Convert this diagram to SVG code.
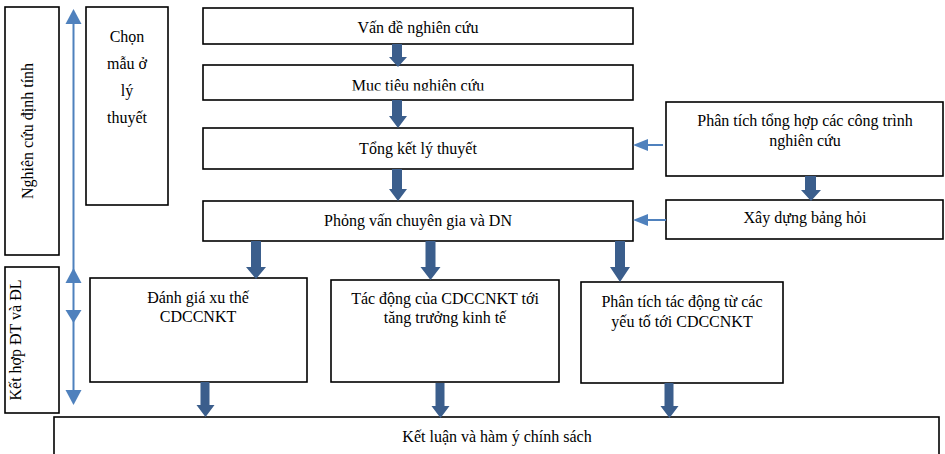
<svg xmlns="http://www.w3.org/2000/svg" width="945" height="454" viewBox="0 0 945 454">
<style>
.box{fill:#fff;stroke:#000;stroke-width:1.6}
text{font-family:'Liberation Serif','Times New Roman',serif;font-size:16px;fill:#000;text-anchor:middle}
.da{fill:#3b5e8c}
.la{fill:#4f81bd}
.ll{stroke:#4f81bd;stroke-width:2;fill:none}
</style>
<defs>
<clipPath id="clipMuc"><rect x="203" y="65" width="430" height="25.5"/></clipPath>
</defs>
<g id="n-dinhtinh"><rect class="box" x="5" y="7" width="54" height="248"/><text transform="translate(33,131) rotate(-90)">Nghiên cứu định tính</text></g>
<g id="n-kethop"><rect class="box" x="5" y="267" width="54" height="146"/><text transform="translate(21,340) rotate(-90)">Kết hợp ĐT và ĐL</text></g>
<g id="n-chon"><rect class="box" x="86" y="7" width="82" height="198" stroke-width="2"/><text x="127" y="42">Chọn</text><text x="127" y="69">mẫu ở</text><text x="127" y="96">lý</text><text x="127" y="123">thuyết</text></g>
<g id="n-vande"><rect class="box" x="203" y="8" width="430" height="36"/><text x="418" y="33">Vấn đề nghiên cứu</text></g>
<g id="n-muctieu"><rect class="box" x="203" y="65" width="430" height="35"/><text x="418" y="91" clip-path="url(#clipMuc)">Mục tiêu nghiên cứu</text></g>
<g id="n-tongket"><rect class="box" x="203" y="128" width="430" height="41"/><text x="418" y="154">Tổng kết lý thuyết</text></g>
<g id="n-phongvan"><rect class="box" x="203" y="201" width="430" height="40"/><text x="418" y="226">Phỏng vấn chuyên gia và DN</text></g>
<g id="n-phantich"><rect class="box" x="666" y="102" width="277" height="74"/><text x="805" y="126">Phân tích tổng hợp các công trình</text><text x="805" y="146">nghiên cứu</text></g>
<g id="n-xaydung"><rect class="box" x="666" y="200" width="277" height="39"/><text x="805" y="223">Xây dựng bảng hỏi</text></g>
<g id="n-danhgia"><rect class="box" x="90" y="278" width="217" height="104"/><text x="198" y="303">Đánh giá xu thế</text><text x="198" y="322">CDCCNKT</text></g>
<g id="n-tacdong"><rect class="box" x="331" y="280" width="228" height="102"/><text x="445" y="304">Tác động của CDCCNKT tới</text><text x="445" y="323">tăng trưởng kinh tế</text></g>
<g id="n-yeuto"><rect class="box" x="581" y="282" width="202" height="101"/><text x="682" y="307">Phân tích tác động từ các</text><text x="682" y="327">yếu tố tới CDCCNKT</text></g>
<g id="n-ketluan"><rect class="box" x="54" y="417" width="885" height="45"/><text x="497" y="442">Kết luận và hàm ý chính sách</text></g>
<g id="connectors">
<path class="da" d="M392,44 h10 v13 h5 l-9,10 l-9,-10 h3 z"/>
<path class="da" d="M392,100 h10 v16 h5 l-9,12 l-9,-12 h3 z"/>
<path class="da" d="M392,169 h10 v20 h5 l-9,12 l-9,-12 h3 z"/>
<path class="da" d="M805,176 h11 v14 h5 l-10,11 l-10,-11 h4 z"/>
<path class="da" d="M251,241 h10 v26 h5 l-10,12 l-10,-12 h5 z"/>
<path class="da" d="M425.5,241 h10 v26 h5 l-10,13 l-10,-13 h5 z"/>
<path class="da" d="M615,241 h10 v26 h5 l-10,15 l-10,-15 h5 z"/>
<path class="da" d="M200.5,382 h9 v23 h5 l-9,12 l-9,-12 h4 z"/>
<path class="da" d="M435.5,383 h9 v23 h5 l-9,12 l-9,-12 h4 z"/>
<path class="da" d="M664.5,383 h9 v23 h5 l-9,12 l-9,-12 h4 z"/>
<line class="ll" x1="663" y1="145" x2="646" y2="145"/>
<path class="la" d="M633,145 l15,-6 v12 z"/>
<line class="ll" x1="666" y1="220" x2="646" y2="220"/>
<path class="la" d="M633,220 l15,-6 v12 z"/>
<line class="ll" x1="73.5" y1="22" x2="73.5" y2="392"/>
<path class="la" d="M73.5,9 l8,15 h-16 z"/>
<path class="la" d="M73.5,268 l8,15 h-16 z"/>
<path class="la" d="M73.5,323 l8,-13 h-16 z"/>
<path class="la" d="M73.5,405 l8,-15 h-16 z"/>
</g>
</svg>
